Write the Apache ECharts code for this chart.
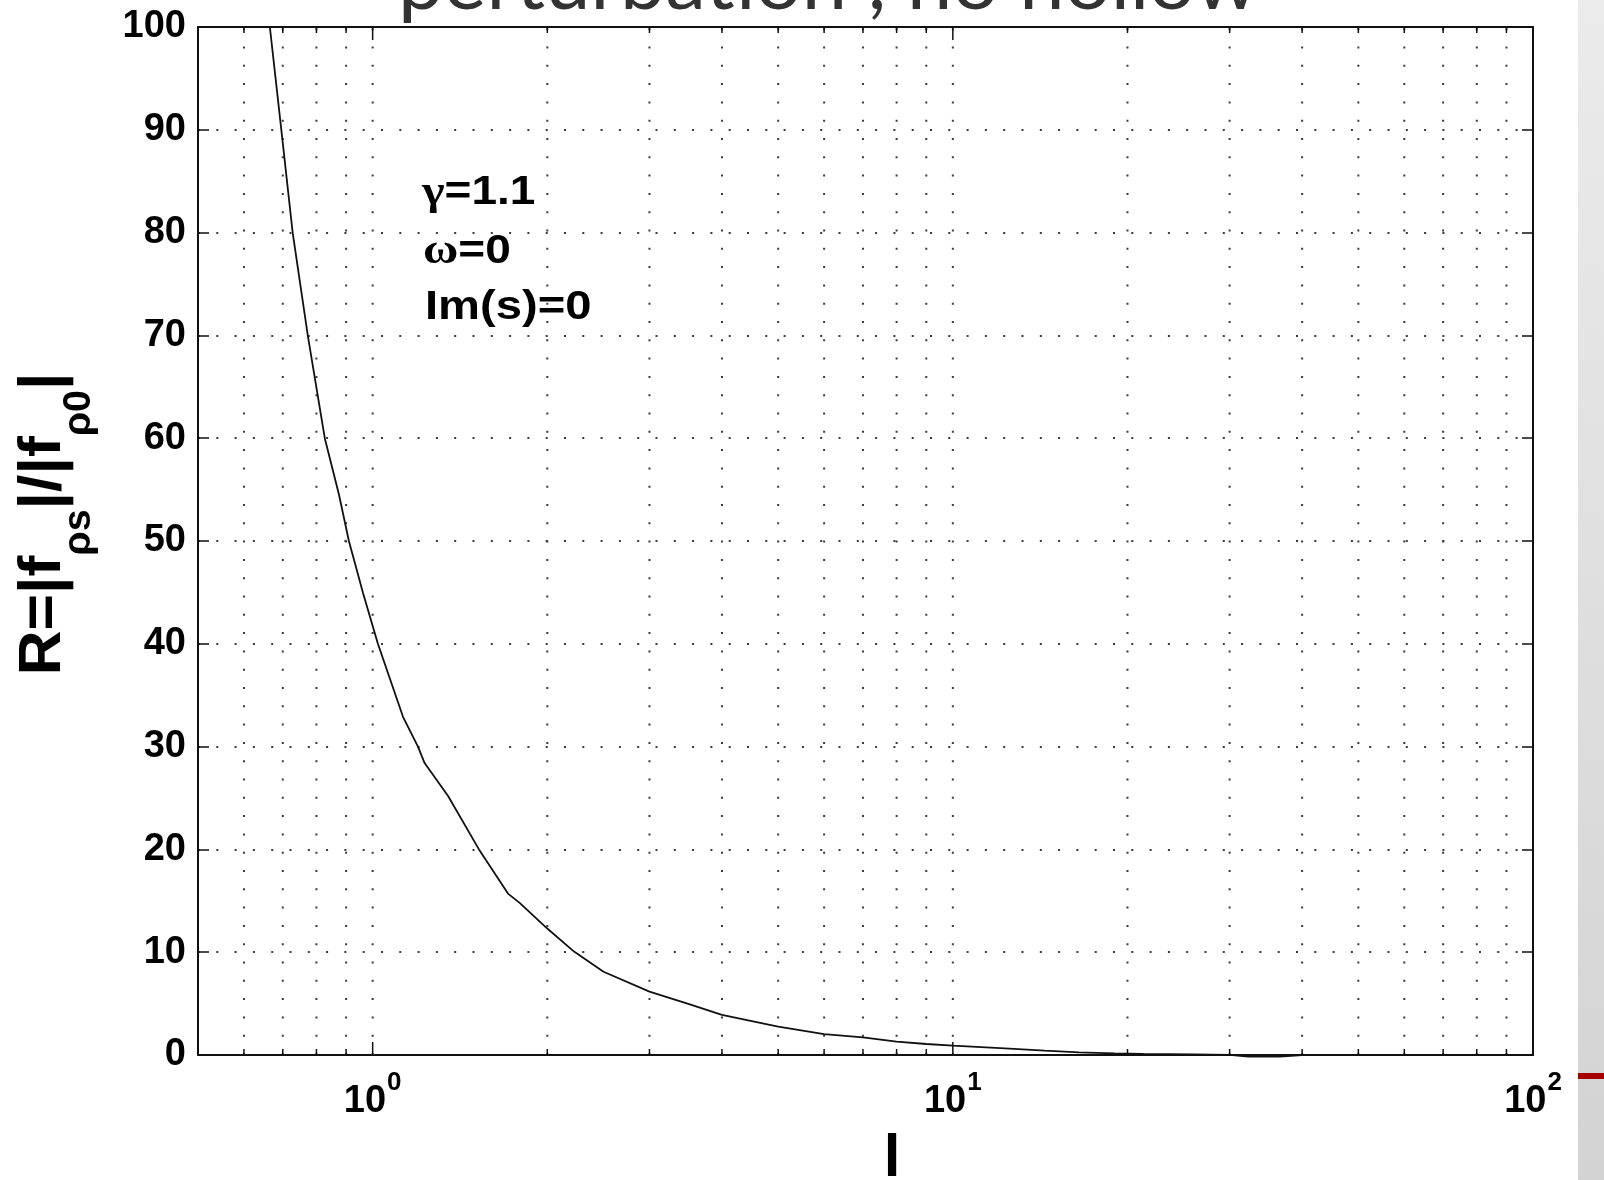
<!DOCTYPE html>
<html>
<head>
<meta charset="utf-8">
<script src="https://cdn.jsdelivr.net/npm/echarts@6/dist/echarts.min.js"></script>
<style>
  html, body { margin: 0; padding: 0; background: #ffffff; }
  #chart { width: 1604px; height: 1180px; }
</style>
</head>
<body>
<div id="chart"></div>
<script>
// Ratio R = |f_ρs| / |f_ρ0| as a function of l (γ = 1.1, ω = 0, Im(s) = 0)
const lValues = [0.665, 0.696, 0.728, 0.773, 0.827, 0.875, 0.91, 0.962, 1.021, 1.128,
                 1.197, 1.229, 1.349, 1.525, 1.711, 1.792, 2.0, 2.224, 2.5, 3,
                 3.5, 4, 5, 6, 7, 8, 9, 10, 12.3, 14.4,
                 16.5, 19, 21.3, 26, 30, 32.3, 36.6, 40, 50, 70, 100];
const rValues = [100, 90, 80, 70, 60, 54.5, 50, 45, 40, 32.9,
                 30, 28.4, 25.2, 20, 15.7, 14.8, 12.3, 10.06, 8.1, 6.17,
                 4.97, 3.9, 2.76, 2.04, 1.72, 1.30, 1.07, 0.91, 0.65, 0.42,
                 0.26, 0.15, 0.1, 0.05, 0.02, -0.15, -0.15, 0, 0, 0, 0];

// Log-axis decades and the in-between grid positions
const xMajorTicks = [1, 10];
const xMinorTicks = [0.6, 0.7, 0.8, 0.9, 2, 3, 4, 5, 6, 7, 8, 9, 20, 30, 40, 50, 60, 70, 80, 90];
const xDecades = [1, 10, 100];
const xDecadeExponents = ['0', '1', '2'];

// Linear y axis
const yMin = 0, yMax = 100, yStep = 10;

// Parameter notes: [greek symbol part, remainder]
const annotations = [['γ', '=1.1'], ['ω', '=0'], ['', 'Im(s)=0']];
const titleText = 'perturbation , no hollow';

const FONT = 'Liberation Sans, Arial, Helvetica, sans-serif';
const SYMBOL_FONT = 'Liberation Serif, Times New Roman, serif';
const AXIS_COLOR = '#111';
const DOT_COLOR = '#3a3a3a';

const chart = echarts.init(document.getElementById('chart'), null, { renderer: 'canvas' });

const lineData = lValues.map((l, i) => [l, rValues[i]]);
const gridData = xMinorTicks.concat(xMajorTicks).map(v => [v, 0]);

function xLabel(v) {
  for (let i = 0; i < xDecades.length; i++) {
    if (Math.abs(v - xDecades[i]) < 1e-6 * xDecades[i]) {
      return '{b|10}{e|' + xDecadeExponents[i] + '}';
    }
  }
  return '';
}

// Vertical dotted grid lines plus inward tick marks on the top and bottom edges
function renderXGrid(params, api) {
  const v = api.value(0);
  const major = xMajorTicks.indexOf(v) >= 0;
  const p0 = api.coord([v, yMin]);
  const p1 = api.coord([v, yMax]);
  const x = p0[0];
  const len = major ? 13 : 6;
  return {
    type: 'group',
    children: [
      { type: 'line', shape: { x1: x, y1: p0[1], x2: x, y2: p1[1] },
        style: { stroke: DOT_COLOR, lineWidth: 2, lineDash: [2, 16.3] } },
      { type: 'line', shape: { x1: x, y1: p0[1], x2: x, y2: p0[1] - len },
        style: { stroke: AXIS_COLOR, lineWidth: 1.5 } },
      { type: 'line', shape: { x1: x, y1: p1[1], x2: x, y2: p1[1] + len },
        style: { stroke: AXIS_COLOR, lineWidth: 1.5 } }
    ]
  };
}

function noteText(parts) {
  return (parts[0] ? '{g|' + parts[0] + '}' : '') + '{t|' + parts[1] + '}';
}

const noteRich = {
  g: { fontSize: 42, fontWeight: 'bold', fontFamily: SYMBOL_FONT, fill: '#000' },
  t: { fontSize: 40, fontWeight: 'bold', fontFamily: FONT, fill: '#000' }
};

const axisLine = { show: true, onZero: false, lineStyle: { color: AXIS_COLOR, width: 2 } };

const option = {
  backgroundColor: '#ffffff',
  animation: false,
  grid: { left: 198, top: 27, width: 1335, height: 1028, containLabel: false },
  xAxis: [
    {
      type: 'log', logBase: 10, min: 0.5, max: 100, position: 'bottom',
      axisLine: axisLine,
      axisTick: { show: false },
      minorTick: { show: false },
      splitLine: { show: false },
      minorSplitLine: { show: false },
      axisLabel: {
        margin: 15,
        showMinLabel: true, showMaxLabel: true,
        formatter: xLabel,
        rich: {
          b: { fontSize: 38, fontWeight: 'bold', fontFamily: FONT, color: '#000',
               verticalAlign: 'top', padding: [13, 0, 0, 0] },
          e: { fontSize: 26, fontWeight: 'bold', fontFamily: FONT, color: '#000',
               verticalAlign: 'top', padding: [0, 0, 0, 1] }
        }
      }
    },
    {
      type: 'log', logBase: 10, min: 0.5, max: 100, position: 'top',
      axisLine: axisLine,
      axisTick: { show: false },
      axisLabel: { show: false },
      splitLine: { show: false }
    }
  ],
  yAxis: [
    {
      type: 'value', min: yMin, max: yMax, interval: yStep, position: 'left',
      axisLine: axisLine,
      axisTick: { show: true, inside: true, length: 11, lineStyle: { color: AXIS_COLOR, width: 1.5 } },
      axisLabel: { fontSize: 38, fontWeight: 'bold', fontFamily: FONT, color: '#000', margin: 12 },
      splitLine: { show: true, lineStyle: { type: [2, 16.3], color: DOT_COLOR, width: 2 } }
    },
    {
      type: 'value', min: yMin, max: yMax, interval: yStep, position: 'right',
      axisLine: axisLine,
      axisTick: { show: true, inside: true, length: 11, lineStyle: { color: AXIS_COLOR, width: 1.5 } },
      axisLabel: { show: false },
      splitLine: { show: false }
    }
  ],
  series: [
    {
      type: 'custom',
      coordinateSystem: 'cartesian2d',
      xAxisIndex: 0, yAxisIndex: 0,
      encode: { x: 0, y: 1 },
      data: gridData,
      renderItem: renderXGrid,
      silent: true,
      z: 1
    },
    {
      type: 'line',
      xAxisIndex: 0, yAxisIndex: 0,
      data: lineData,
      showSymbol: false,
      smooth: false,
      clip: false,
      lineStyle: { color: '#111', width: 1.8 },
      z: 5
    }
  ],
  graphic: [
    // slide title running off the top edge
    {
      type: 'text', x: 398, y: -17, scaleX: 1.016, z: 10,
      style: { text: titleText, fontSize: 80, fontWeight: 'normal', fontFamily: 'Lato, Noto Sans, sans-serif',
               fill: '#333333', align: 'left', verticalAlign: 'middle' }
    },
    // parameter notes inside the axes
    {
      type: 'text', x: 422, y: 193, scaleX: 1.15, z: 10,
      style: { text: noteText(annotations[0]), rich: noteRich, align: 'left', verticalAlign: 'middle' }
    },
    {
      type: 'text', x: 423, y: 252, scaleX: 1.15, z: 10,
      style: { text: noteText(annotations[1]), rich: noteRich, align: 'left', verticalAlign: 'middle' }
    },
    {
      type: 'text', x: 425, y: 308, scaleX: 1.18, z: 10,
      style: { text: noteText(annotations[2]), rich: noteRich, align: 'left', verticalAlign: 'middle' }
    },
    // axis titles
    {
      type: 'text', x: 892, y: 1159, z: 10,
      style: { text: 'l', fontSize: 60, fontWeight: 'bold', fontFamily: FONT,
               fill: '#000', align: 'center', verticalAlign: 'middle' }
    },
    {
      type: 'text', x: 56, y: 524, rotation: Math.PI / 2, scaleX: 1.04, z: 10,
      style: {
        text: '{m|R=|f}{s|ρs}{m||/|f}{s|ρ0}{m||}',
        align: 'center', verticalAlign: 'middle',
        rich: {
          m: { fontSize: 60, fontWeight: 'bold', fontFamily: FONT, fill: '#000', verticalAlign: 'top' },
          s: { fontSize: 38, fontWeight: 'bold', fontFamily: FONT, fill: '#000', verticalAlign: 'top',
               padding: [47, 0, 0, 0] }
        }
      }
    },
    // grey side band with a red rule
    {
      type: 'rect', z: 0,
      shape: { x: 1578, y: 0, width: 26, height: 1180 },
      style: {
        fill: new echarts.graphic.LinearGradient(0, 0, 0, 1, [
          { offset: 0, color: '#ebebeb' },
          { offset: 1, color: '#d3d3d3' }
        ])
      }
    },
    {
      type: 'rect', z: 1,
      shape: { x: 1578, y: 1073, width: 26, height: 6 },
      style: { fill: '#a80000' }
    }
  ]
};

chart.setOption(option);
</script>
</body>
</html>
